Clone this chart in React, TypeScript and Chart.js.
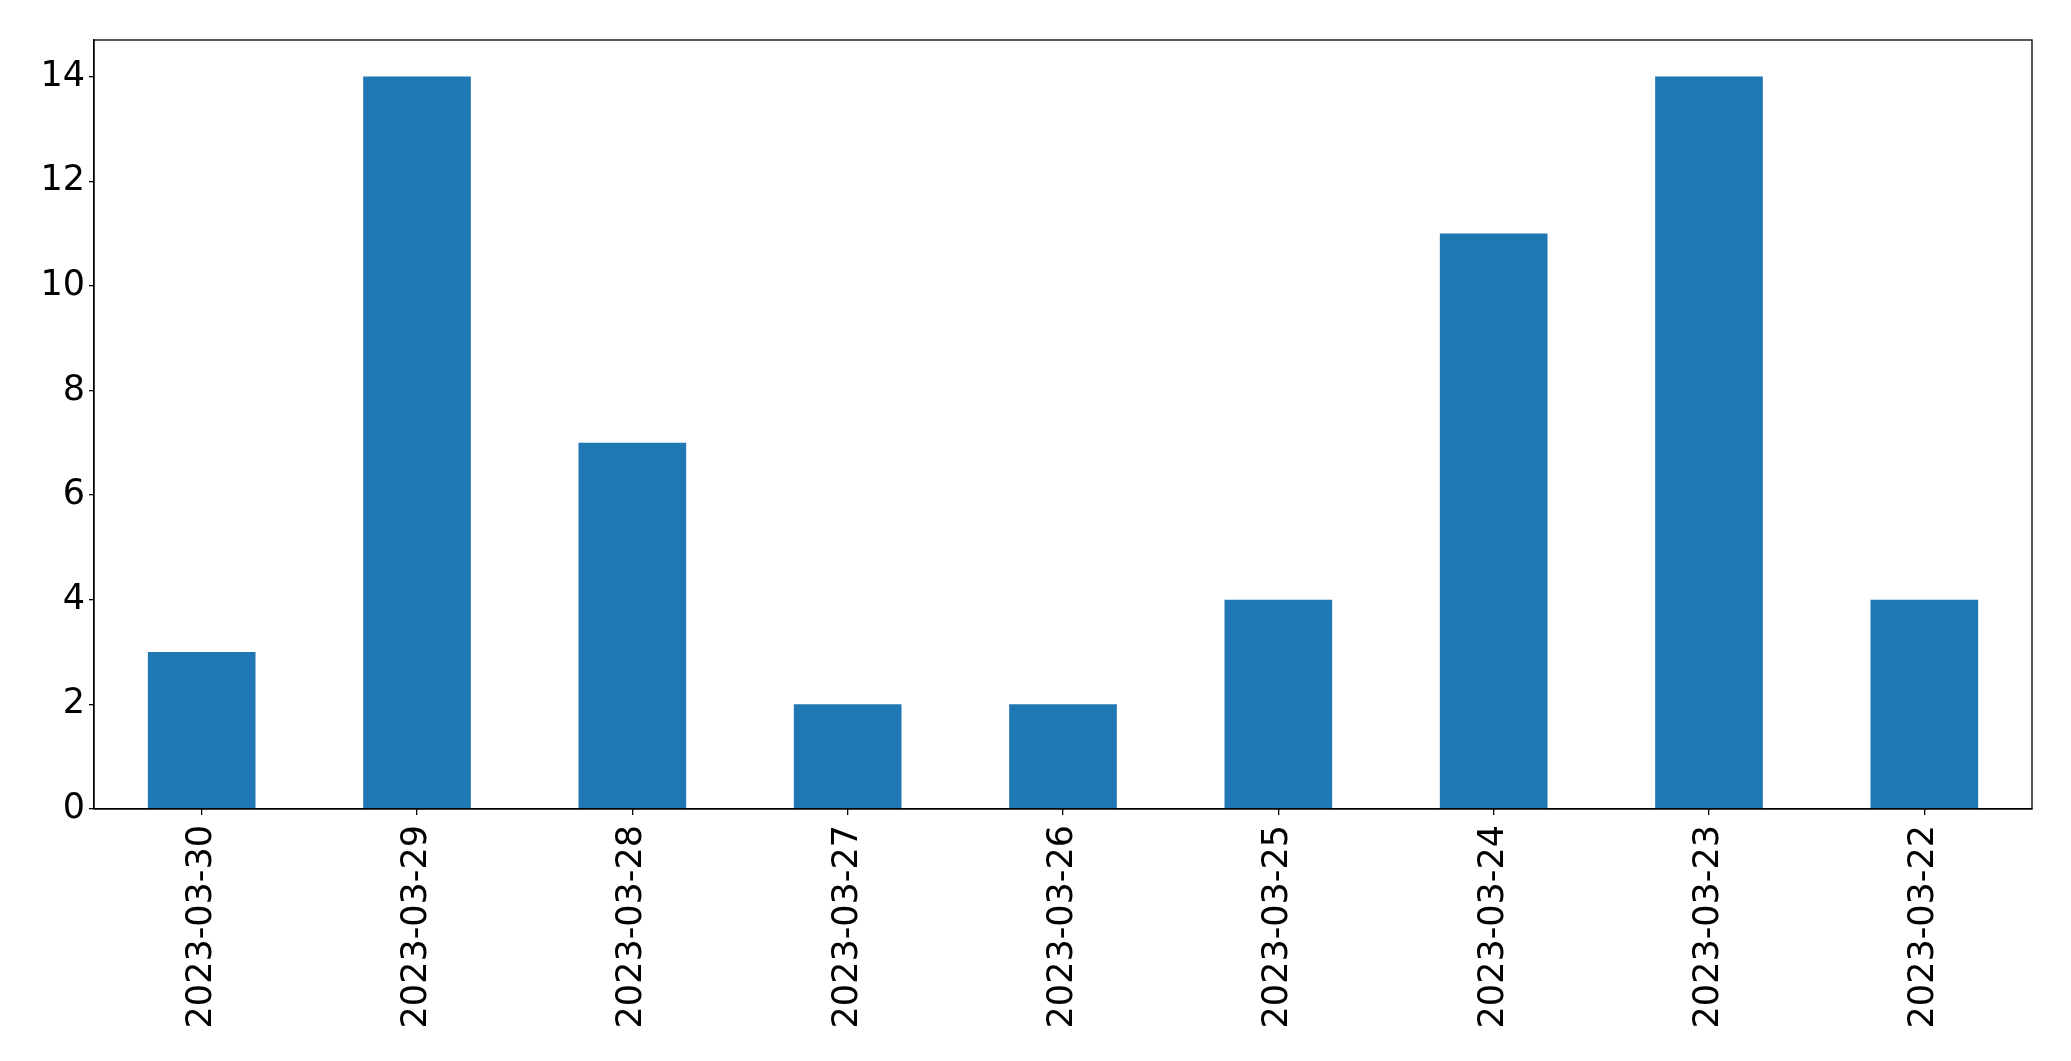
import React, { useEffect, useRef } from "react";
import { Chart, registerables } from "chart.js";

Chart.register(...registerables);

const categories = [
  "2023-03-30",
  "2023-03-29",
  "2023-03-28",
  "2023-03-27",
  "2023-03-26",
  "2023-03-25",
  "2023-03-24",
  "2023-03-23",
  "2023-03-22",
];
const values = [3, 14, 7, 2, 2, 4, 11, 14, 4];
const yTicks = [0, 2, 4, 6, 8, 10, 12, 14];
const yMax = 14.7;

const frame = {
  id: "frame",
  afterDraw(chart: any) {
    const { ctx, chartArea } = chart;
    ctx.save();
    ctx.strokeStyle = "#000";
    ctx.lineWidth = 1.3;
    ctx.strokeRect(chartArea.left, chartArea.top, chartArea.right - chartArea.left, chartArea.bottom - chartArea.top);
    ctx.restore();
  },
};

export default function App() {
  const ref = useRef<HTMLCanvasElement>(null);
  useEffect(() => {
    document.body.style.margin = "0";
    const chart = new Chart(ref.current!, {
      type: "bar",
      data: {
        labels: categories,
        datasets: [
          {
            data: values,
            backgroundColor: "#1f77b4",
            barPercentage: 0.5,
            categoryPercentage: 1,
          },
        ],
      },
      plugins: [frame],
      options: {
        animation: false,
        responsive: false,
        devicePixelRatio: 1,
        layout: { padding: { left: 0, top: 40, right: 39, bottom: 0 } },
        plugins: { legend: { display: false }, tooltip: { enabled: false } },
        scales: {
          x: {
            grid: { display: true, offset: false, drawOnChartArea: false, drawTicks: true, tickLength: 6, color: "#000", lineWidth: 1.3 },
            border: { display: true, color: "#000", width: 1.3 },
            ticks: {
              minRotation: 90,
              maxRotation: 90,
              autoSkip: false,
              padding: 10,
              color: "#000",
              font: { family: "DejaVu Sans", size: 35 },
            },
            afterFit(scale: any) {
              scale.height = 252;
            },
          },
          y: {
            min: 0,
            max: yMax,
            grid: { display: true, drawOnChartArea: false, drawTicks: true, tickLength: 5, color: "#000", lineWidth: 1.3 },
            border: { display: true, color: "#000", width: 1.3 },
            ticks: {
              color: "#000",
              padding: 4,
              font: { family: "DejaVu Sans", size: 35 },
            },
            afterBuildTicks(scale: any) {
              scale.ticks = yTicks.map((v) => ({ value: v }));
            },
            afterFit(scale: any) {
              scale.width = 94;
            },
          },
        },
      },
    });
    return () => chart.destroy();
  }, []);
  return (
    <div style={{ position: "absolute", left: 0, top: 0, width: 2071, height: 1061, background: "#fff" }}>
      <canvas ref={ref} width={2071} height={1061} style={{ width: 2071, height: 1061, display: "block" }} />
    </div>
  );
}
